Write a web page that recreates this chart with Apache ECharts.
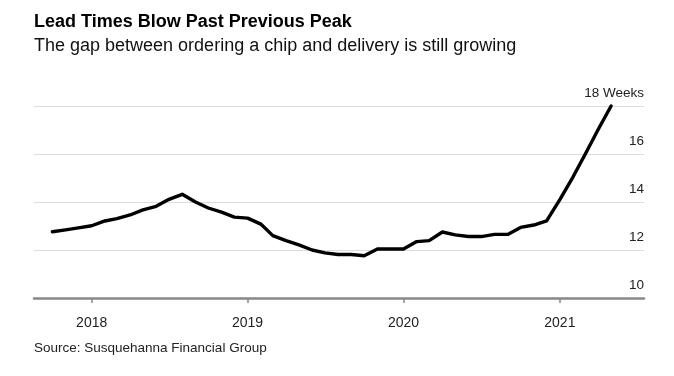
<!DOCTYPE html>
<html>
<head>
<meta charset="utf-8">
<script src="https://cdn.jsdelivr.net/npm/echarts@6/dist/echarts.min.js"></script>
<style>
  html, body { margin: 0; padding: 0; background: #fff; }
  #chart { width: 674px; height: 376px; }
</style>
</head>
<body>
<div id="chart"></div>
<script>
  // monthly lead times, Oct 2017 - May 2021 (weeks)
  var months = [
    '2017-10-01', '2017-11-01', '2017-12-01',
    '2018-01-01', '2018-02-01', '2018-03-01', '2018-04-01', '2018-05-01', '2018-06-01',
    '2018-07-01', '2018-08-01', '2018-09-01', '2018-10-01', '2018-11-01', '2018-12-01',
    '2019-01-01', '2019-02-01', '2019-03-01', '2019-04-01', '2019-05-01', '2019-06-01',
    '2019-07-01', '2019-08-01', '2019-09-01', '2019-10-01', '2019-11-01', '2019-12-01',
    '2020-01-01', '2020-02-01', '2020-03-01', '2020-04-01', '2020-05-01', '2020-06-01',
    '2020-07-01', '2020-08-01', '2020-09-01', '2020-10-01', '2020-11-01', '2020-12-01',
    '2021-01-01', '2021-02-01', '2021-03-01', '2021-04-01', '2021-05-01'
  ];
  var leadWeeks = [
    12.76, 12.84, 12.92,
    13.01, 13.21, 13.31, 13.46, 13.67, 13.82, 14.11, 14.32, 14.0, 13.75, 13.58, 13.37,
    13.33, 13.08, 12.6, 12.39, 12.21, 12.0, 11.88, 11.81, 11.81, 11.76, 12.04, 12.04,
    12.04, 12.35, 12.39, 12.75, 12.63, 12.56, 12.56, 12.65, 12.65, 12.94, 13.04, 13.21,
    14.1, 15.05, 15.98, 17.03, 18.0
  ];
  var yearTicks = ['2018-01-01', '2019-01-01', '2020-01-01', '2021-01-01'];
  var axisStart = '2017-08-19';
  var axisEnd = '2021-07-17';

  var font = "'Liberation Sans', Arial, Helvetica, sans-serif";

  function toTime(s) {
    var p = s.split('-');
    return +new Date(+p[0], +p[1] - 1, +p[2]);
  }

  var chart = echarts.init(document.getElementById('chart'), null, { renderer: 'canvas' });

  var points = months.map(function (m, i) {
    return [toTime(m), leadWeeks[i]];
  });
  var tickTimes = yearTicks.map(toTime);

  chart.setOption({
    animation: false,
    backgroundColor: '#fff',
    title: [{
      text: 'Lead Times Blow Past Previous Peak',
      subtext: 'The gap between ordering a chip and delivery is still growing',
      left: 34,
      top: 12,
      itemGap: 4,
      padding: 0,
      textStyle: {
        fontFamily: font,
        fontSize: 18,
        fontWeight: 'bold',
        color: '#000',
        lineHeight: 20
      },
      subtextStyle: {
        fontFamily: font,
        fontSize: 18,
        color: '#111',
        lineHeight: 20
      }
    }, {
      text: 'Source: Susquehanna Financial Group',
      left: 34,
      top: 340,
      padding: 0,
      textStyle: {
        fontFamily: font,
        fontSize: 13.5,
        fontWeight: 'normal',
        color: '#222',
        lineHeight: 16
      }
    }],
    grid: {
      left: 34,
      right: 30,
      top: 106,
      bottom: 78
    },
    xAxis: {
      // plain numeric axis holding timestamps, so custom year ticks work
      type: 'value',
      min: toTime(axisStart),
      max: toTime(axisEnd),
      axisLine: {
        show: true,
        lineStyle: { color: '#888', width: 2.5 }
      },
      axisTick: {
        show: true,
        customValues: tickTimes,
        length: 5,
        lineStyle: { color: '#888', width: 1.5 }
      },
      axisLabel: {
        customValues: tickTimes,
        margin: 18,
        fontFamily: font,
        fontSize: 14,
        color: '#222',
        showMinLabel: true,
        showMaxLabel: true,
        formatter: function (v) {
          return String(new Date(v).getFullYear());
        }
      },
      splitLine: { show: false }
    },
    yAxis: {
      type: 'value',
      position: 'right',
      min: 10,
      max: 18,
      interval: 2,
      axisLine: { show: false },
      axisTick: { show: false },
      axisLabel: {
        inside: true,
        margin: 0,
        fontFamily: font,
        fontSize: 13.5,
        color: '#222',
        verticalAlign: 'bottom',
        padding: [0, 0, 6, 0],
        formatter: function (v) {
          return v === 18 ? '18 Weeks' : String(v);
        }
      },
      splitLine: {
        lineStyle: { color: '#dcdcdc', width: 1 }
      }
    },
    series: [{
      type: 'line',
      data: points,
      symbol: 'none',
      smooth: false,
      clip: false,
      lineStyle: {
        color: '#000',
        width: 3.4,
        cap: 'round',
        join: 'round'
      }
    }]
  });
</script>
</body>
</html>
